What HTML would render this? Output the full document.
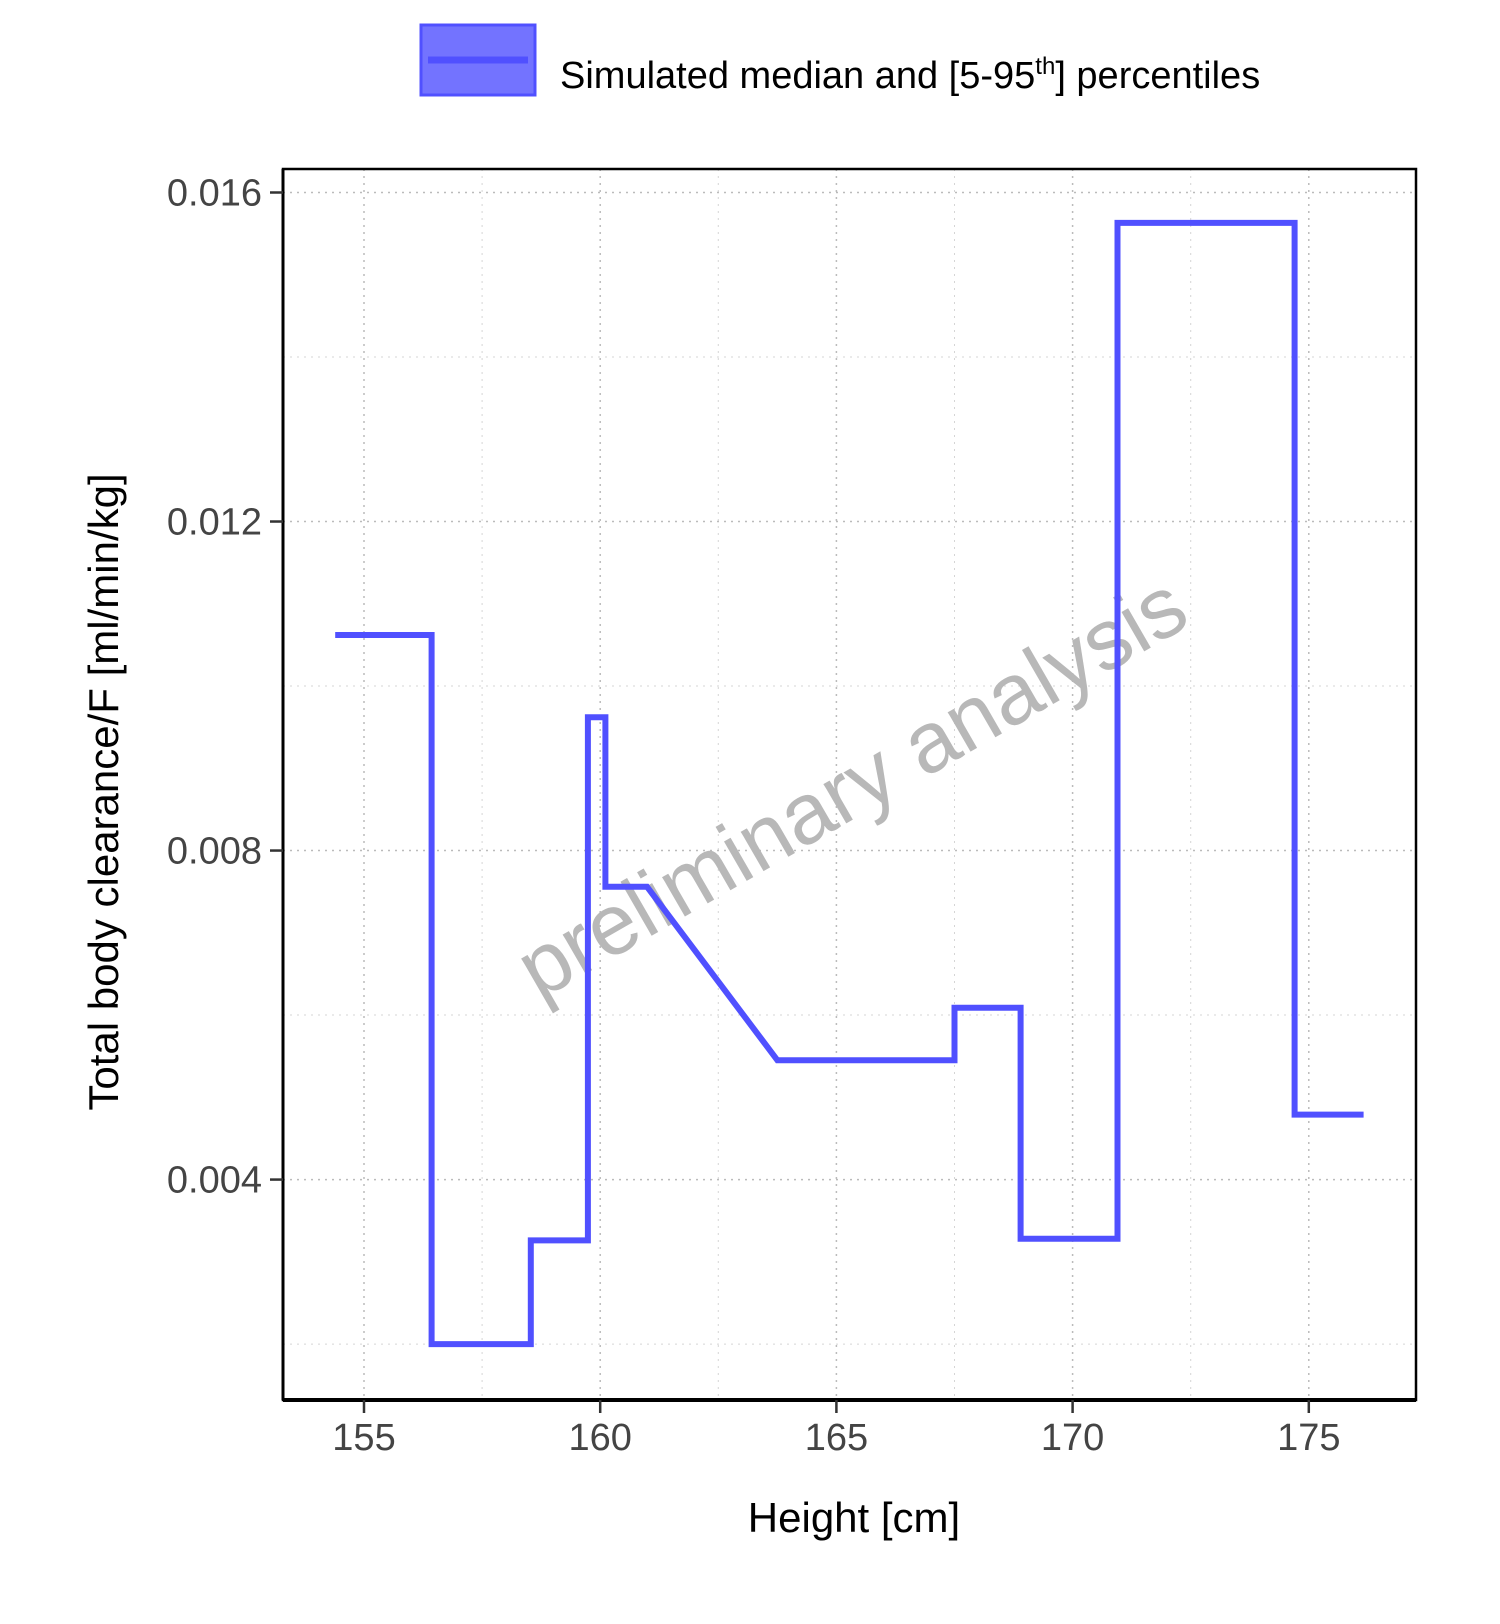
<!DOCTYPE html>
<html><head><meta charset="utf-8"><style>
body{margin:0;background:#fff}
svg{display:block;font-family:"Liberation Sans",sans-serif}
</style></head><body>
<svg width="1500" height="1624" viewBox="0 0 1500 1624">
<g id="grid"></g>
<text x="866" y="812" transform="rotate(-30 866 812)" text-anchor="middle" font-size="86" fill="#b8b8b8">preliminary analysis</text>
<g id="series"></g>
<rect x="283" y="169" width="1133" height="1231" fill="none" stroke="#000" stroke-width="2.5"/>
<line x1="283" y1="1400" x2="1416" y2="1400" stroke="#000" stroke-width="4"/>
<line x1="283" y1="169" x2="283" y2="1400" stroke="#000" stroke-width="3"/>
<g id="ticks"></g>
<text x="854" y="1532" text-anchor="middle" font-size="42" fill="#000">Height [cm]</text>
<text x="0" y="0" transform="translate(118 792) rotate(-90)" text-anchor="middle" font-size="42" fill="#000">Total body clearance/F [ml/min/kg]</text>
<g>
<rect x="421" y="25" width="114" height="70" fill="#7373ff" stroke="#5050ff" stroke-width="3"/>
<line x1="428" y1="60" x2="528" y2="60" stroke="#5050ff" stroke-width="7"/>
<text x="560" y="88" font-size="38" fill="#000">Simulated median and [5-95<tspan font-size="24" dy="-14">th</tspan><tspan dy="14">] percentiles</tspan></text>
</g>
</svg>
<script>
const xVals=[154.39,156.43,156.43,158.53,158.53,159.74,159.74,160.11,160.11,160.99,163.75,167.5,167.5,168.9,168.9,170.95,170.95,174.7,174.7,176.16];
const yVals=[0.01062,0.01062,0.0020,0.0020,0.00326,0.00326,0.00962,0.00962,0.00756,0.00756,0.00545,0.00545,0.00609,0.00609,0.00328,0.00328,0.01563,0.01563,0.00479,0.00479];
const xTicks=[155,160,165,170,175];
const xTickLabels=["155","160","165","170","175"];
const xMinor=[157.5,162.5,167.5,172.5];
const yTicks=[0.004,0.008,0.012,0.016];
const yTickLabels=["0.004","0.008","0.012","0.016"];
const yMinor=[0.002,0.006,0.010,0.014];
const NS="http://www.w3.org/2000/svg";
function sx(v){return 364+(v-155)*47.24;}
function sy(v){return 192.5+(0.016-v)*82256;}
function mk(tag,attrs,parent){const e=document.createElementNS(NS,tag);for(const k in attrs)e.setAttribute(k,attrs[k]);parent.appendChild(e);return e;}
const grid=document.getElementById('grid'),ticks=document.getElementById('ticks'),series=document.getElementById('series');
xTicks.concat(xMinor).forEach((v,i)=>{const l=mk('line',{x1:sx(v),x2:sx(v),y1:169,y2:1400,stroke:i<xTicks.length?'#bbb':'#d5d5d5','stroke-width':i<xTicks.length?1.5:1,'stroke-dasharray':'2,5'},grid);

});
yTicks.concat(yMinor).forEach((v,i)=>{const l=mk('line',{x1:283,x2:1416,y1:sy(v),y2:sy(v),stroke:i<yTicks.length?'#bbb':'#d5d5d5','stroke-width':i<yTicks.length?1.5:1,'stroke-dasharray':'2,5'},grid);

});
xTicks.forEach((v,i)=>{const t=mk('line',{x1:sx(v),x2:sx(v),y1:1400,y2:1413,stroke:'#333','stroke-width':2.5},ticks);


const tx=mk('text',{x:sx(v),y:1450,'text-anchor':'middle','font-size':38,fill:'#444'},ticks);tx.textContent=xTickLabels[i];

});
yTicks.forEach((v,i)=>{const t=mk('line',{x1:270,x2:283,y1:sy(v),y2:sy(v),stroke:'#333','stroke-width':2.5},ticks);


const tx=mk('text',{x:262,y:sy(v)+13,'text-anchor':'end','font-size':38,fill:'#444'},ticks);tx.textContent=yTickLabels[i];

});
const d=xVals.map((x,i)=>(i?'L':'M')+sx(x).toFixed(1)+','+sy(yVals[i]).toFixed(1)).join(' ');
const p=mk('path',{d:d,fill:'none',stroke:'#5050ff','stroke-width':6,'stroke-linejoin':'miter'},series);


</script>
</body></html>
